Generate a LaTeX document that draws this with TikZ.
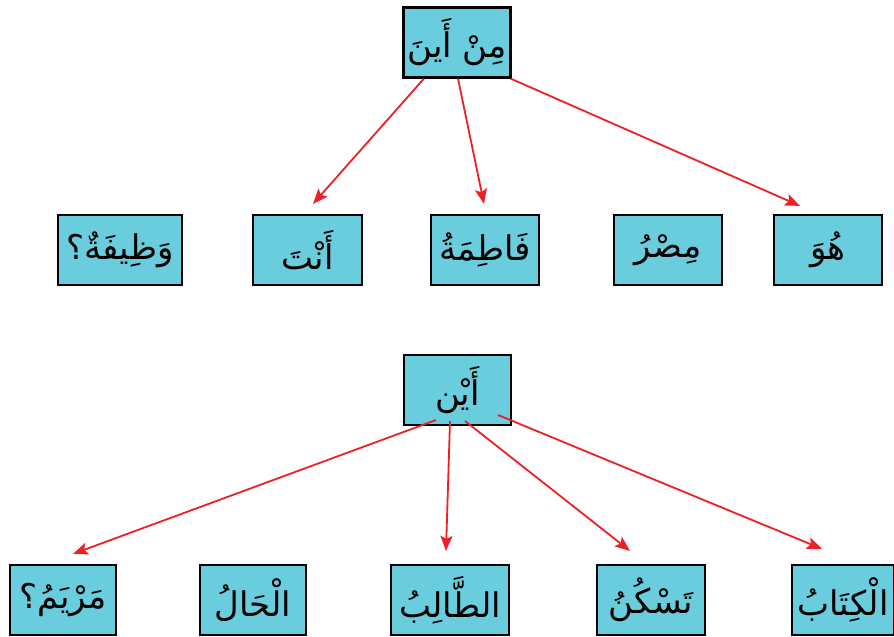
\documentclass[tikz,border=0pt]{standalone}
\usepackage{fontspec}
\newfontfamily\arabicfont[Script=Arabic]{DejaVu Sans}
\TeXXeTstate=1
\usetikzlibrary{arrows.meta}
\definecolor{boxblue}{RGB}{106,205,222}
\definecolor{arrred}{RGB}{236,32,37}

\begin{document}
\begin{tikzpicture}[x=1pt, y=-1pt,
word/.style = {draw=black, line width=2.2pt, fill=boxblue,
            minimum width=#1, minimum height=70pt, inner sep=0pt,
            font=\arabicfont\fontsize{34}{40}\selectfont},
word/.default = 108pt,  % box width
link/.style = {arrred, line width=1.8pt,
            -{Stealth[length=15pt, width=12pt, inset=3pt]}}
                ]
    \useasboundingbox (0,0) rectangle (894,637);

    % first tree
    \node[word=107pt] at (457,42.5) (minayna) {\beginR مِنْ أَينَ\endR};
    \foreach \x/\y/\w/\n/\t in {120/250/124/wazifa/{وَظِيفَةٌ؟},
            307.5/250/109/anta/{أَنْتَ}, 485/250/108/fatima/{فَاطِمَةُ},
            668/250/108/misr/{مِصْرُ}, 828/250/108/huwa/{هُوَ}}
        \node[word=\w pt] at (\x,\y) (\n) {\beginR\t\endR};
    \draw [link] ([xshift=-33pt]minayna.south) -- ([shift={(5.5,-10)}]anta.north);
    \draw [link] ([xshift=1pt]minayna.south) -- ([shift={(-1,-10)}]fatima.north);
    \draw [link] ([xshift=-1pt]minayna.south east) -- ([shift={(-28,-8)}]huwa.north);

    % second tree
    \node[word=107pt] at (457.5,390) (ayna) {\beginR أَيْن\endR};
    \foreach \x/\y/\w/\n/\t in {63/600/106/maryam/{مَرْيَمُ؟},
            253/600/106/hal/{الْحَالُ}, 450/600/118/talib/{الطَّالِبُ},
            651/600/108/taskun/{تَسْكُنُ}, 843/600/102/kitab/{الْكِتَابُ}}
        \node[word=\w pt] at (\x,\y) (\n) {\beginR\t\endR};
    \draw [link] ([shift={(-21.5,30)}]ayna.center) -- ([shift={(10,-10)}]maryam.north);
    \draw [link] ([shift={(-7.5,31)}]ayna.center) -- ([shift={(-4,-13)}]talib.north);
    \draw [link] ([shift={(7.5,31)}]ayna.center) -- ([shift={(-21,-13)}]taskun.north);
    \draw [link] ([shift={(40.5,25)}]ayna.center) -- ([shift={(-21,-15)}]kitab.north);
\end{tikzpicture}
\end{document}
